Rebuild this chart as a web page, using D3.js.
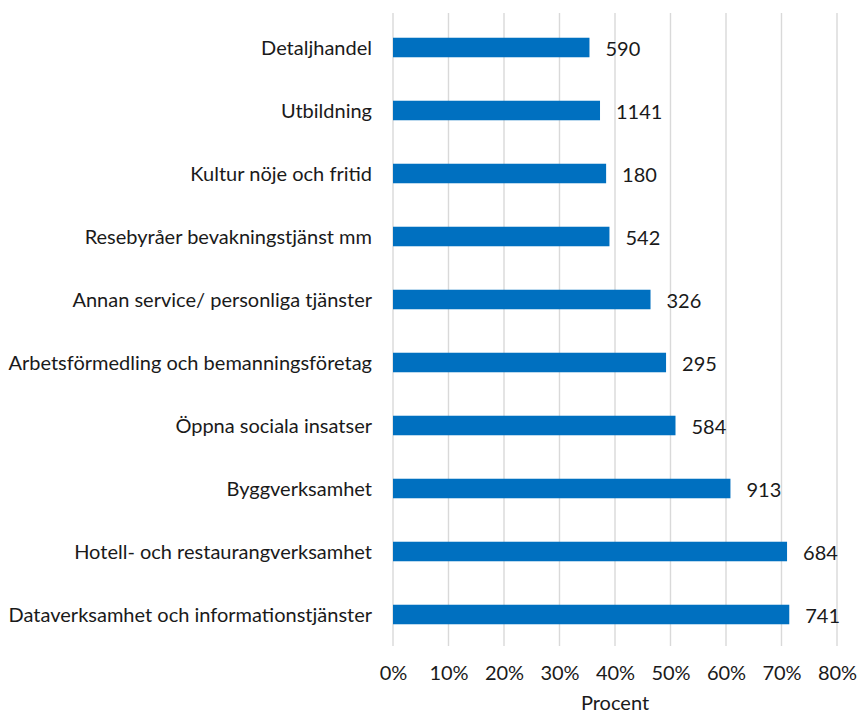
<!DOCTYPE html>
<html>
<head>
<meta charset="utf-8">
<script src="https://cdn.jsdelivr.net/npm/d3@7"></script>
<style>
  body { margin: 0; background: #fff; }
  svg text { font-family: Lato, "Open Sans", sans-serif; fill: #1a1a1a; }
  .grid line { stroke: #d9d9d9; stroke-width: 1.4px; }
</style>
</head>
<body>
<div id="canvas"></div>
<script>
var categories = [
  'Detaljhandel',
  'Utbildning',
  'Kultur nöje och fritid',
  'Resebyråer bevakningstjänst mm',
  'Annan service/ personliga tjänster',
  'Arbetsförmedling och bemanningsföretag',
  'Öppna sociala insatser',
  'Byggverksamhet',
  'Hotell- och restaurangverksamhet',
  'Dataverksamhet och informationstjänster'
];
var shares = [35.4, 37.3, 38.4, 39.0, 46.4, 49.2, 50.9, 60.8, 71.0, 71.4];
var counts = [590, 1141, 180, 542, 326, 295, 584, 913, 684, 741];
var tickValues = [0, 10, 20, 30, 40, 50, 60, 70, 80];
var axisTitle = 'Procent';

var W = 858, H = 713;
var m = {t:16, r:21, b:67, l:393},
    w = W - m.l - m.r,
    h = H - m.t - m.b;
var fontSize = 20;

var svg = d3.select('#canvas')
    .append('svg')
    .attr('width', W)
    .attr('height', H);

var plot = svg.append('g')
    .attr('transform', 'translate(' + m.l + ',' + m.t + ')');

var data = categories.map(function(c, i) {
  return {item: c, share: shares[i], n: counts[i]};
});

// scales
var scaleX = d3.scaleLinear()
    .domain([0, 80])
    .range([0, w]);
var scaleY = d3.scaleBand()
    .domain(categories)
    .range([0, h])
    .paddingInner(0.69)
    .paddingOuter(0.345);

// gridlines
plot.append('g').attr('class', 'grid')
  .selectAll('line')
  .data(tickValues)
  .enter()
  .append('line')
  .attr('x1', function(d) { return scaleX(d); })
  .attr('x2', function(d) { return scaleX(d); })
  .attr('y1', -3)
  .attr('y2', h);

// x axis labels
var axisX = d3.axisBottom(scaleX)
    .tickValues(tickValues)
    .tickSize(0)
    .tickPadding(20)
    .tickFormat(function(d) { return d + '%'; });
var gx = plot.append('g')
    .attr('transform', 'translate(0,' + h + ')')
    .call(axisX);
gx.select('.domain').remove();
gx.selectAll('text')
    .attr('font-family', null)
    .style('font-size', fontSize + 'px');

// y axis labels
var axisY = d3.axisLeft(scaleY)
    .tickSize(0)
    .tickPadding(21);
var gy = plot.append('g').call(axisY);
gy.select('.domain').remove();
gy.selectAll('text')
    .attr('font-family', null)
    .attr('dy', '0.36em')
    .style('font-size', fontSize + 'px');

// bars
plot.selectAll('.bar')
  .data(data)
  .enter()
  .append('rect')
  .attr('class', 'bar')
  .attr('x', 0)
  .attr('y', function(d) { return scaleY(d.item); })
  .attr('width', function(d) { return scaleX(d.share); })
  .attr('height', scaleY.bandwidth())
  .attr('fill', '#0070c0');

// value labels
plot.selectAll('.label')
  .data(data)
  .enter()
  .append('text')
  .attr('class', 'label')
  .attr('x', function(d) { return scaleX(d.share) + 16; })
  .attr('y', function(d) { return scaleY(d.item) + scaleY.bandwidth() / 2 + 1; })
  .attr('dy', '0.36em')
  .style('font-size', fontSize + 'px')
  .text(function(d) { return d.n; });

// axis title
svg.append('text')
  .attr('x', m.l + w / 2)
  .attr('y', 710)
  .attr('text-anchor', 'middle')
  .style('font-size', fontSize + 'px')
  .text(axisTitle);
</script>
</body>
</html>
